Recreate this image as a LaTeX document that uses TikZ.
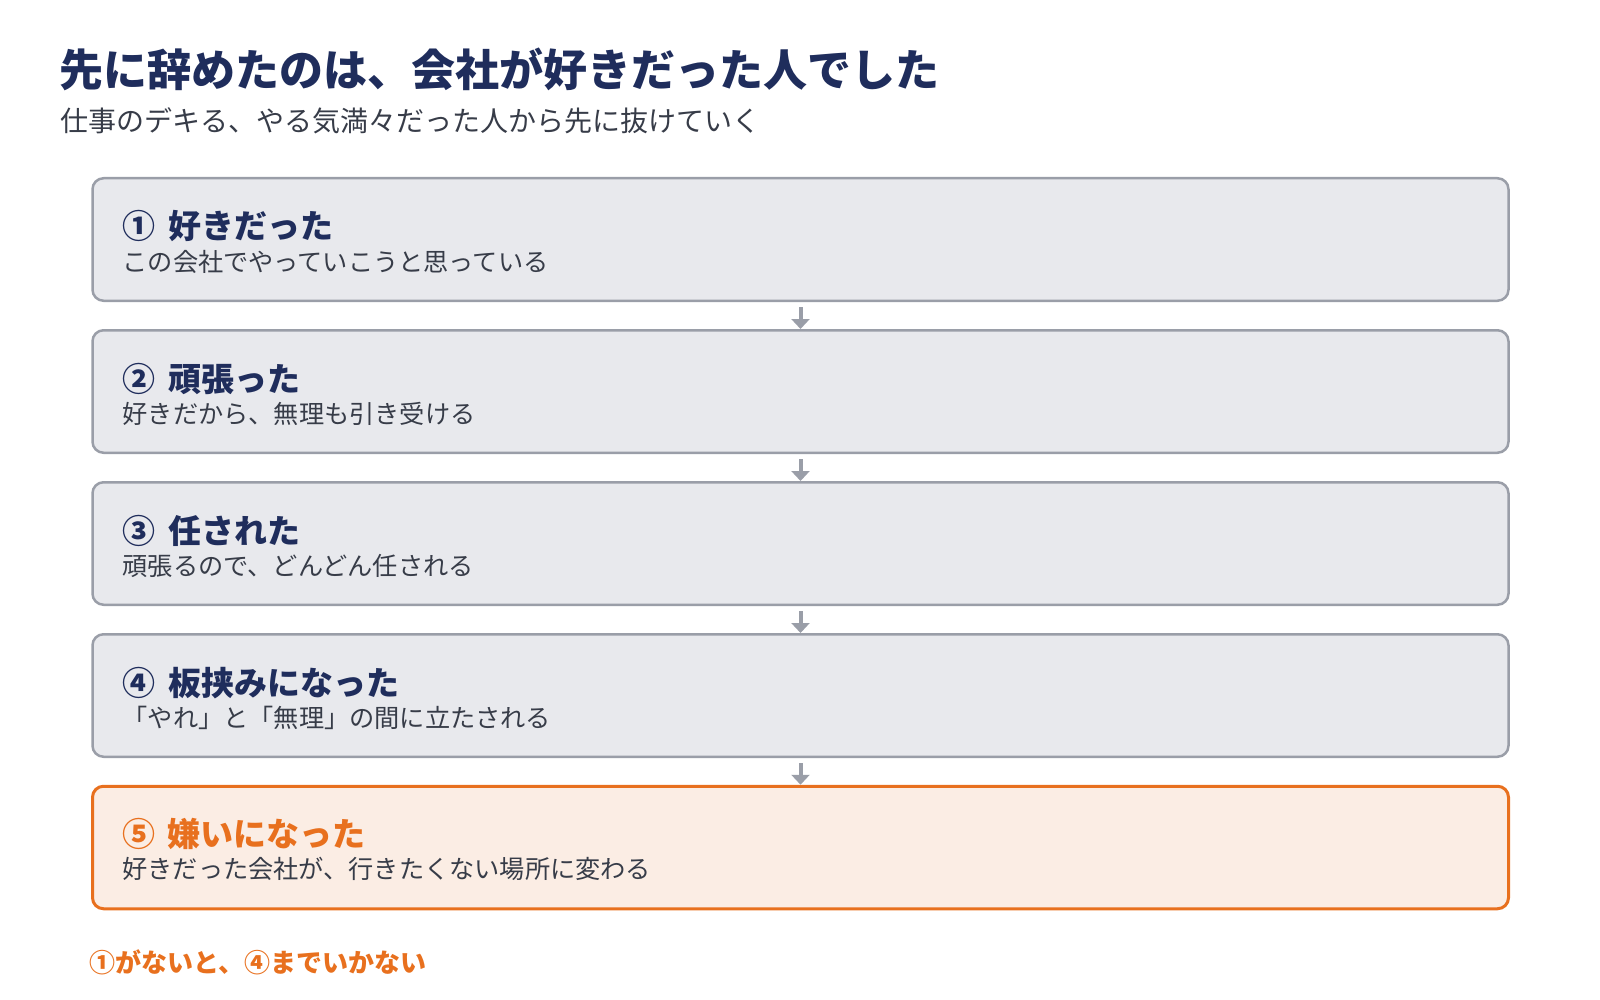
\documentclass[tikz,border=0pt]{standalone}
\usepackage{fontspec}
\setmainfont{Noto Sans CJK JP}
\usetikzlibrary{arrows.meta,calc}

\definecolor{navy}{RGB}{31,45,92}
\definecolor{ink}{RGB}{55,60,72}
\definecolor{boxfill}{RGB}{232,233,237}
\definecolor{boxline}{RGB}{154,158,168}
\definecolor{hot}{RGB}{232,112,30}
\definecolor{hotfill}{RGB}{251,237,228}

\tikzset{
  stepbox/.style={draw=boxline, fill=boxfill, line width=1.25pt, rounded corners=5.5pt,
    minimum width=708pt, minimum height=61.25pt, inner sep=0pt},
  hotbox/.style={stepbox, draw=hot, fill=hotfill, line width=1.5pt},
  headline/.style={anchor=base west, inner sep=0pt, text=navy,
    font=\fontsize{16.5pt}{16.5pt}\selectfont\bfseries},
  subline/.style={anchor=base west, inner sep=0pt, text=ink,
    font=\fontsize{12.6pt}{12.6pt}\selectfont},
  flow/.style={draw=boxline, line width=2pt, -{Triangle[width=9pt,length=5pt]}}
}

\begin{document}
\begin{tikzpicture}[x=0.5pt,y=-0.5pt]
 \useasboundingbox (0,0) rectangle (1600,1000);

 \node[anchor=base west, inner sep=0pt, text=navy, font=\fontsize{22pt}{22pt}\selectfont\bfseries]
   (title) at (59,87) {先に辞めたのは、会社が好きだった人でした};
 \node[anchor=base west, inner sep=0pt, text=ink, font=\fontsize{14pt}{14pt}\selectfont]
   (subtitle) at (60,132) {仕事のデキる、やる気満々だった人から先に抜けていく};

 \foreach \i/\h/\s in {1/{①\hspace{2.5pt} 好きだった}/{この会社でやっていこうと思っている},
                       2/{②\hspace{2.5pt} 頑張った}/{好きだから、無理も引き受ける},
                       3/{③\hspace{2.5pt} 任された}/{頑張るので、どんどん任される},
                       4/{④\hspace{2.5pt} 板挟みになった}/{「やれ」と「無理」の間に立たされる}} {
   \node[stepbox] (b\i) at (800.5,{239.5+152*(\i-1)}) {};
   \node[headline] (h\i) at ($(b\i.north west)+(31,62)$) {\h};
   \node[subline] (s\i) at ($(b\i.north west)+(31,94)$) {\s};
 }

 \node[hotbox] (b5) at (800.5,847.5) {};
 \node[headline, text=hot] (h5) at ($(b5.north west)+(31,62)$) {⑤\hspace{2.5pt} 嫌いになった};
 \node[subline] (s5) at ($(b5.north west)+(31,94)$) {好きだった会社が、行きたくない場所に変わる};

 \foreach \i [evaluate=\i as \j using int(\i+1)] in {1,...,4}
   \draw[flow] ($(b\i.south)+(0,5)$) -- (b\j.north);

 \node[anchor=base west, inner sep=0pt, text=hot, font=\fontsize{13pt}{13pt}\selectfont\bfseries]
   (note) at (89,972) {①がないと、④までいかない};
\end{tikzpicture}
\end{document}
